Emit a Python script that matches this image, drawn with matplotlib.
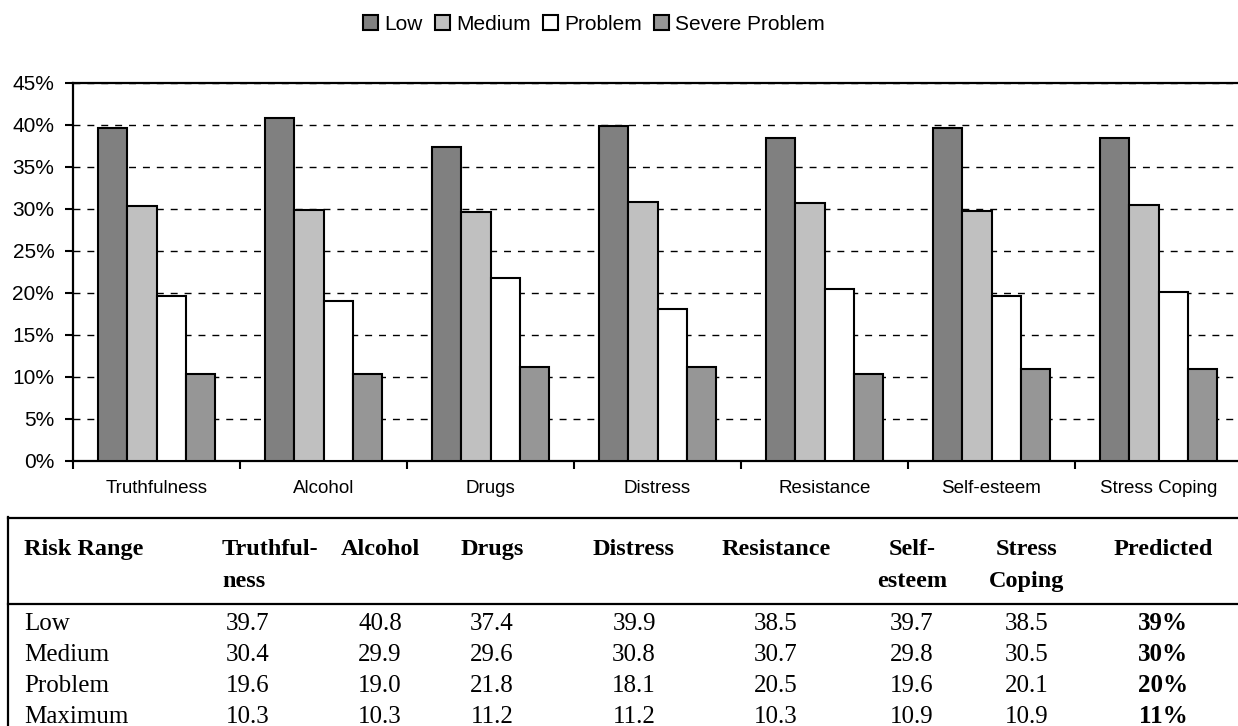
import matplotlib
matplotlib.use("Agg")
import matplotlib.pyplot as plt
from matplotlib.patches import Patch
from matplotlib.lines import Line2D
from matplotlib.ticker import FixedLocator, FuncFormatter

# ---------------- data ----------------
categories = ["Truthfulness", "Alcohol", "Drugs", "Distress", "Resistance",
              "Self-esteem", "Stress Coping"]
series_names = ["Low", "Medium", "Problem", "Severe Problem"]
low = [39.7, 40.8, 37.4, 39.9, 38.5, 39.7, 38.5]
medium = [30.4, 29.9, 29.6, 30.8, 30.7, 29.8, 30.5]
problem = [19.6, 19.0, 21.8, 18.1, 20.5, 19.6, 20.1]
severe = [10.3, 10.3, 11.2, 11.2, 10.3, 10.9, 10.9]
yticks = [0, 5, 10, 15, 20, 25, 30, 35, 40, 45]

row_labels = ["Low", "Medium", "Problem", "Maximum"]
predicted = [39, 30, 20, 11]
head_line1 = ["Risk Range", "Truthful-", "Alcohol", "Drugs", "Distress",
              "Resistance", "Self-", "Stress", "Predicted"]
head_line2 = ["", "ness", "", "", "", "", "esteem", "Coping", ""]

# ---------------- style ----------------
colors = ["#808080", "#C0C0C0", "#FFFFFF", "#969696"]
SANS = "Liberation Sans"
SERIF = "Liberation Serif"
W, H = 1238, 726

fig = plt.figure(figsize=(W / 100, H / 100), dpi=100)

# chart axes (pixel geometry of the reference)
ax_left, ax_right, ax_top, ax_bottom = 73, 1242, 83, 461
ax = fig.add_axes([ax_left / W, 1 - ax_bottom / H,
                   (ax_right - ax_left) / W, (ax_bottom - ax_top) / H])

series = [low, medium, problem, severe]
bw = 0.1766
x = list(range(len(categories)))
for k, (vals, col) in enumerate(zip(series, colors)):
    ax.bar([xi + (k - 1.5) * bw for xi in x], vals, width=bw, color=col,
           edgecolor="black", linewidth=1.5, zorder=3, label=series_names[k])

ax.set_xlim(-0.5, len(categories) - 0.5)
ax.set_ylim(0, 45)
ax.yaxis.set_major_locator(FixedLocator(yticks))
ax.yaxis.set_major_formatter(FuncFormatter(lambda v, p: f"{int(v)}%"))
ax.set_axisbelow(True)
ax.yaxis.grid(True, color="black", linewidth=1.0, linestyle=(0, (5, 5)))

ax.xaxis.set_major_locator(FixedLocator([i - 0.5 for i in range(len(categories) + 1)]))
ax.xaxis.set_major_formatter(FuncFormatter(lambda v, p: ""))
ax.xaxis.set_minor_locator(FixedLocator(x))
ax.set_xticklabels(categories, minor=True)
ax.tick_params(axis="x", which="major", length=5.5, width=1.5, direction="out")
ax.tick_params(axis="x", which="minor", length=0, pad=14, labelsize=13.5)
ax.tick_params(axis="y", length=5.5, width=1.5, pad=8, labelsize=15)
for lab in ax.get_xticklabels(minor=True) + ax.get_yticklabels():
    lab.set_family(SANS)

for s in ["left", "bottom", "top"]:
    ax.spines[s].set_linewidth(1.6)
    ax.spines[s].set_color("black")
ax.spines["right"].set_visible(False)

# legend
handles = [Patch(facecolor=c, edgecolor="black", linewidth=1.5) for c in colors]
fig.legend(handles, series_names, loc="center", bbox_to_anchor=(594 / W, 1 - 24 / H),
           ncol=4, frameon=False, prop={"family": SANS, "size": 15},
           handlelength=0.7, handleheight=0.7, handletextpad=0.3,
           columnspacing=0.6, borderpad=0)

# ---------------- table ----------------
tab = fig.add_axes([0, 0, 1, 1])
tab.set_xlim(0, W)
tab.set_ylim(H, 0)
tab.axis("off")
tab.patch.set_alpha(0)

tab.add_line(Line2D([8, W], [518, 518], color="black", linewidth=1.6))
tab.add_line(Line2D([8, W], [604, 604], color="black", linewidth=1.6))
tab.add_line(Line2D([8, 8], [517.2, H], color="black", linewidth=1.6))

col_x = [24, 248, 380, 492, 634, 776, 912, 1027, 1163]
fs_head = 17.5
fs = 18.0
for j in range(len(head_line1)):
    if j == 0:
        ha, xx = "left", col_x[0]
    elif j == 1:
        ha, xx = "left", 222
    else:
        ha, xx = "center", col_x[j]
    tab.text(xx, 555, head_line1[j], ha=ha, va="baseline", family=SERIF,
             weight="bold", size=fs_head)
    if head_line2[j]:
        tab.text(xx, 587, head_line2[j], ha=ha, va="baseline", family=SERIF,
                 weight="bold", size=fs_head)

row_y = [630, 661, 692, 723]
for i, lab in enumerate(row_labels):
    tab.text(col_x[0], row_y[i], lab, ha="left", va="baseline", family=SERIF, size=fs)
    for j in range(len(categories)):
        tab.text(col_x[j + 1], row_y[i], f"{series[i][j]:.1f}", ha="center",
                 va="baseline", family=SERIF, size=fs)
    tab.text(col_x[-1], row_y[i], f"{predicted[i]}%", ha="center", va="baseline",
             family=SERIF, weight="bold", size=fs)

fig.savefig("out.png", dpi=100)
